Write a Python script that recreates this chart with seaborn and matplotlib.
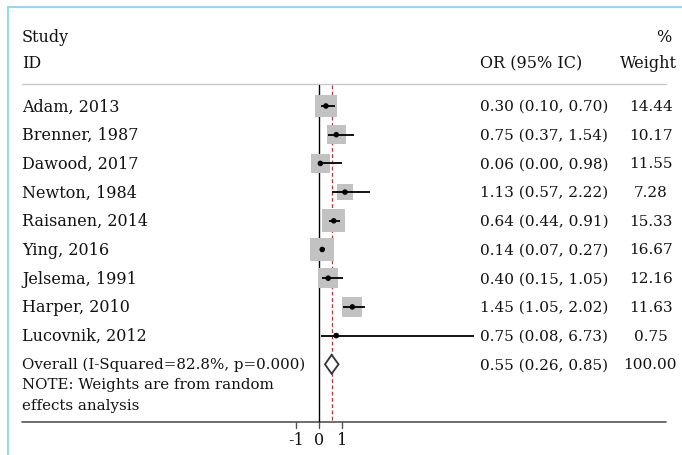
import numpy as np
import pandas as pd
import matplotlib
matplotlib.use("Agg")
import matplotlib.pyplot as plt
import seaborn as sns
from matplotlib.patches import Polygon

# Data
studies = ["Adam, 2013", "Brenner, 1987", "Dawood, 2017", "Newton, 1984",
           "Raisanen, 2014", "Ying, 2016", "Jelsema, 1991", "Harper, 2010",
           "Lucovnik, 2012"]
odds = [0.30, 0.75, 0.06, 1.13, 0.64, 0.14, 0.40, 1.45, 0.75]
ci_low = [0.10, 0.37, 0.00, 0.57, 0.44, 0.07, 0.15, 1.05, 0.08]
ci_high = [0.70, 1.54, 0.98, 2.22, 0.91, 0.27, 1.05, 2.02, 6.73]
weights = [14.44, 10.17, 11.55, 7.28, 15.33, 16.67, 12.16, 11.63, 0.75]
overall = [0.55, 0.26, 0.85]
overall_label = "Overall (I-Squared=82.8%, p=0.000)"
overall_weight = "100.00"
x_ticks = [-1, 0, 1]

df = pd.DataFrame({"study": studies, "or": odds, "lo": ci_low,
                   "hi": ci_high, "w": weights})
df["row"] = np.arange(len(df))

sns.set_style("white")
plt.rcParams["font.family"] = ["DejaVu Serif"]
plt.rcParams["text.color"] = "#111111"

fig = plt.figure(figsize=(6.82, 4.56), dpi=100)

# pixel-space axes for text and frame
tx = fig.add_axes([0, 0, 1, 1])
tx.set_xlim(0, 682)
tx.set_ylim(456, 0)
tx.axis("off")

# data axes: x = OR, y = row
ax = fig.add_axes([0, 0, 1, 1], facecolor="none")
x0, px_unit = 319, 23.0
y0, row_h = 107, 28.7
ax.set_xlim(-x0 / px_unit, (682 - x0) / px_unit)
ax.set_ylim((456 - y0) / row_h, -y0 / row_h)
ax.axis("off")

def row_px(r):
    return y0 + row_h * r

# frame
cyan = "#93dbe9"
tx.plot([8, 8], [8, 456], color=cyan, lw=1.5)
tx.plot([8, 682], [8, 8], color=cyan, lw=1.5)

# header
fs = 11.5
nfs = 11
tx.text(22, 37, "Study", fontsize=fs, va="center")
tx.text(22, 64, "ID", fontsize=fs, va="center")
tx.text(664, 37, "%", fontsize=fs, va="center", ha="center")
tx.text(480, 64, "OR (95% IC)", fontsize=fs, va="center")
tx.text(677, 64, "Weight", fontsize=fs, va="center", ha="right")
tx.plot([22, 666], [85, 85], color="#c8c8c8", lw=1)

# study rows
for r, row in df.iterrows():
    y = row_px(r)
    tx.text(22, y, row["study"], fontsize=fs, va="center")
    tx.text(480, y, f"{row['or']:.2f} ({row['lo']:.2f}, {row['hi']:.2f})",
            fontsize=nfs, va="center")
    tx.text(651, y, f"{row['w']:.2f}", fontsize=nfs, va="center", ha="center")

# overall + note
yo = row_px(len(df))
tx.text(22, yo, overall_label, fontsize=10.8, va="center")
tx.text(480, yo, f"{overall[0]:.2f} ({overall[1]:.2f}, {overall[2]:.2f})",
        fontsize=nfs, va="center")
tx.text(650, yo, overall_weight, fontsize=nfs, va="center", ha="center")
tx.text(22, 385, "NOTE: Weights are from random", fontsize=10.8, va="center")
tx.text(22, 406, "effects analysis", fontsize=10.8, va="center")

# reference lines
y_top = (86 - y0) / row_h
y_axis = (423 - y0) / row_h
ax.plot([0, 0], [y_top, y_axis], color="black", lw=1)
ax.plot([overall[0], overall[0]], [y_top, y_axis], color="#b2383a",
        lw=0.9, ls=(0, (3, 2)))

# weight squares
k = 17.5
sns.scatterplot(data=df, x="or", y="row", size="w", sizes=(0.75 * k, 16.67 * k),
                size_norm=(0.75, 16.67), marker="s", color="#c2c2c2",
                edgecolor="none", legend=False, ax=ax, zorder=2)
# CI lines
ax.hlines(df["row"], df["lo"], df["hi"], color="black", lw=1.3, zorder=3)
sns.scatterplot(data=df, x="or", y="row", color="black", s=16,
                edgecolor="none", legend=False, ax=ax, zorder=4)
ax.set_xlabel("")
ax.set_ylabel("")

# overall diamond
ro = len(df)
dh = 0.33
diamond = Polygon([[overall[1], ro], [overall[0], ro - dh],
                   [overall[2], ro], [overall[0], ro + dh]],
                  closed=True, facecolor="white", edgecolor="#333333",
                  lw=1.3, zorder=5)
ax.add_patch(diamond)

# x axis
tx.plot([22, 666], [423, 423], color="#555555", lw=1.2)
for t in x_ticks:
    ax.plot([t, t], [y_axis, y_axis + 6 / row_h], color="#555555", lw=1)
    ax.text(t, (441 - y0) / row_h, str(t), fontsize=fs, ha="center", va="center")

fig.savefig("out.png", dpi=100)
